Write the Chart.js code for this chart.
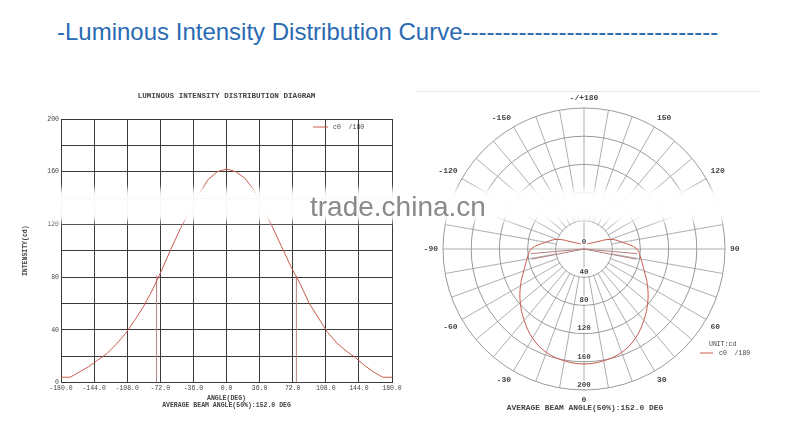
<!DOCTYPE html>
<html><head><meta charset="utf-8">
<script src="https://cdn.jsdelivr.net/npm/chart.js@4/dist/chart.umd.min.js"></script>
<style>
html,body{margin:0;padding:0;background:#fff;width:800px;height:432px;overflow:hidden;position:relative;font-family:'Liberation Sans',Arial,sans-serif}
#title{position:absolute;left:57px;top:20px;font-size:24px;line-height:24px;color:#2a6ab3;white-space:nowrap}
#lw{position:absolute;left:0;top:80px;width:453px;height:340px}
#rw{position:absolute;left:410px;top:84px;width:348px;height:332px}
#topline{position:absolute;left:415px;top:91px;width:345px;height:1px;background:#e8e8e8}
#band{position:absolute;left:43px;top:189px;width:692px;height:32px;background:rgba(255,255,255,0.96);filter:blur(3px)}
#wm{position:absolute;left:310px;top:193px;font-size:28px;line-height:28px;color:#8a8a8a;white-space:nowrap}
</style></head><body>
<div id="title">-Luminous Intensity Distribution Curve--------------------------------</div>
<div id="topline"></div>
<div id="lw"><canvas id="lc"></canvas></div>
<div id="rw"><canvas id="rc"></canvas></div>
<div id="band"></div>
<div id="wm">trade.china.cn</div>
<script>
// ---- data: cartesian curve (angle in degrees, intensity in cd) ----
const angles = [-180,-170,-160,-150,-140,-130,-120,-110,-100,-90,-80,-70,-60,-50,-40,-30,-20,-10,0,10,20,30,40,50,60,70,80,90,100,110,120,130,140,150,160,170,180];
const intensity = [4,4,8,12,17,22,29,37,47,58,71,86,102,117,130,143,154,160,162,160,155,146,132,118,103,88,75,60,49,38,30,24,19,13,8,4,4];
// ---- data: polar curve as drawn in the polar diagram (clockwise from 0 at bottom) ----
const polarAngles = [0,-10,-20,-30,-40,-50,-60,-70,-80,-90,-100,-110,-120,-130,-140,-150,-160,-170,180,170,160,150,140,130,120,110,100,90,80,70,60,50,40,30,20,10];
const polarIntensity = [163,161,156,146,132,118,104,91,82,75,55,40,20,13,10,8,7,6,6,6,7,8,10,13,20,40,55,75,82,91,104,118,132,146,156,161];
const beamAngles = [-76, 76];
const polarBeamAngles = [-85, -79, 79, 85];
const beamLevel = 81;
const polarBeamLevel = 76;
const seriesLabel = 'c0  /180';
const xTickStep = 36, yTickStep = 20, yLabelStep = 40;
const polarRingStep = 40, polarLabelStep = 30;
const chartTitle = 'LUMINOUS INTENSITY DISTRIBUTION DIAGRAM';
const xTitle = ['ANGLE(DEG)', 'AVERAGE BEAM ANGLE(50%):152.0 DEG'];
const yTitle = 'INTENSITY(cd)';
const polarUnit = 'UNIT:cd';
const polarFooter = 'AVERAGE BEAM ANGLE(50%):152.0 DEG';

// ---- styles ----
const MONO = "'Liberation Mono','DejaVu Sans Mono',monospace";
const curveColor = '#c95a4e';
const beamColor = '#b58080';
const txt = '#444';

const leftDecor = {
  id: 'leftDecor',
  afterDraw(chart) {
    const {ctx, chartArea: ca} = chart;
    ctx.save();
    ctx.fillStyle = txt;
    ctx.font = `bold 7.6px ${MONO}`;
    ctx.textAlign = 'center'; ctx.textBaseline = 'middle';
    ctx.fillText(chartTitle, (ca.left + ca.right) / 2, ca.top - 23);
    const y = ca.top + 8;
    ctx.strokeStyle = curveColor; ctx.lineWidth = 1;
    ctx.beginPath(); ctx.moveTo(ca.right - 79, y); ctx.lineTo(ca.right - 64, y); ctx.stroke();
    ctx.font = `6.5px ${MONO}`; ctx.textAlign = 'left';
    ctx.fillText(chart.data.datasets[0].label, ca.right - 59, y);
    ctx.restore();
  }
};

new Chart(document.getElementById('lc'), {
  type: 'line',
  data: {
    datasets: [
      { label: seriesLabel, data: angles.map((a, i) => ({x: a, y: intensity[i]})), borderColor: curveColor, borderWidth: 1, pointRadius: 0, tension: 0, fill: false },
      ...beamAngles.map(a => ({ label: 'beam', data: [{x: a, y: 0}, {x: a, y: beamLevel}], borderColor: beamColor, borderWidth: 1, pointRadius: 0, fill: false }))
    ]
  },
  options: {
    responsive: true, maintainAspectRatio: false, animation: false,
    layout: { padding: { left: 0, right: 61, top: 39, bottom: 10.4 } },
    plugins: { legend: { display: false }, tooltip: { enabled: false }, title: { display: false } },
    scales: {
      x: {
        type: 'linear', min: -180, max: 180,
        ticks: { stepSize: xTickStep, autoSkip: false, maxRotation: 0, padding: 2.5, color: txt, font: { family: MONO, size: 6.5, lineHeight: 1 }, callback: v => Number(v).toFixed(1) },
        grid: { color: '#3a3a3a', lineWidth: 1, drawTicks: false },
        border: { color: '#3a3a3a' },
        title: { display: true, text: xTitle, color: txt, font: { family: MONO, size: 6.5, weight: 'bold' }, padding: { top: 0, bottom: 0 } }
      },
      y: {
        min: 0, max: 200,
        afterFit: s => { s.width = 61; },
        ticks: { stepSize: yTickStep, padding: 2, color: txt, font: { family: MONO, size: 6.5 }, callback: v => (v % yLabelStep === 0 ? v : '') },
        grid: { color: '#3a3a3a', lineWidth: 1, drawTicks: false },
        border: { color: '#3a3a3a' },
        title: { display: true, text: yTitle, color: txt, font: { family: MONO, size: 6.5, weight: 'bold' }, padding: { top: 21, bottom: 0 } }
      }
    }
  },
  plugins: [leftDecor]
});

const polarDecor = {
  id: 'polarDecor',
  beforeDatasetsDraw(chart) {
    const s = chart.scales.r, ctx = chart.ctx;
    const r1 = s.getDistanceFromCenterForValue(polarRingStep);
    ctx.save();
    ctx.beginPath(); ctx.arc(s.xCenter, s.yCenter, r1 - 0.7, 0, Math.PI * 2);
    ctx.fillStyle = '#fff'; ctx.fill();
    ctx.strokeStyle = '#999'; ctx.lineWidth = 0.8;
    [0, 9, 18, 27].forEach(i => {
      const p = s.getPointPositionForValue(i, polarRingStep);
      ctx.beginPath(); ctx.moveTo(s.xCenter, s.yCenter); ctx.lineTo(p.x, p.y); ctx.stroke();
    });
    ctx.restore();
  },
  afterDatasetsDraw(chart) {
    const s = chart.scales.r, ctx = chart.ctx;
    const step = polarAngles[0] - polarAngles[1];
    const n = polarAngles.length;
    ctx.save();
    ctx.strokeStyle = beamColor; ctx.lineWidth = 1;
    polarBeamAngles.forEach(a => {
      const idx = a <= 0 ? -a / step : n - a / step;
      const p = s.getPointPositionForValue(idx, polarBeamLevel);
      ctx.beginPath(); ctx.moveTo(s.xCenter, s.yCenter); ctx.lineTo(p.x, p.y); ctx.stroke();
    });
    ctx.font = `bold 7.5px ${MONO}`; ctx.textAlign = 'center'; ctx.textBaseline = 'middle';
    s.ticks.forEach(t => {
      const p = s.getPointPositionForValue(0, t.value);
      const label = String(t.value);
      const w = ctx.measureText(label).width;
      const dy = t.value === 0 ? -7 : -5;
      ctx.fillStyle = '#fff';
      ctx.fillRect(p.x - w / 2 - 1, p.y + dy - 4, w + 2, 8);
      ctx.fillStyle = txt;
      ctx.fillText(label, p.x, p.y + dy);
    });
    const xc = s.xCenter, yc = s.yCenter;
    ctx.font = `6.5px ${MONO}`; ctx.textAlign = 'left';
    ctx.fillText(polarUnit, xc + 125, yc + 95);
    ctx.strokeStyle = curveColor;
    ctx.beginPath(); ctx.moveTo(xc + 116, yc + 104); ctx.lineTo(xc + 129, yc + 104); ctx.stroke();
    ctx.fillText(chart.data.datasets[0].label, xc + 135, yc + 104);
    ctx.font = `bold 7.9px ${MONO}`; ctx.textAlign = 'center';
    ctx.fillText(polarFooter, xc + 1, yc + 159);
    ctx.restore();
  }
};

new Chart(document.getElementById('rc'), {
  type: 'radar',
  data: {
    labels: polarAngles,
    datasets: [{ label: seriesLabel, data: polarIntensity, borderColor: curveColor, borderWidth: 1, pointRadius: 0, fill: false, tension: 0.4 }]
  },
  options: {
    responsive: true, maintainAspectRatio: false, animation: false,
    layout: { padding: { top: 9.4, bottom: 9.6, left: 0, right: 0 } },
    plugins: { legend: { display: false }, tooltip: { enabled: false } },
    scales: {
      r: {
        min: 0, max: 200, startAngle: 180,
        ticks: { stepSize: polarRingStep, display: false },
        grid: { circular: true, color: '#808080', lineWidth: 0.8 },
        angleLines: { color: '#999', lineWidth: 0.8 },
        pointLabels: {
          color: txt, padding: 5, font: { family: MONO, size: 8, weight: 'bold' },
          callback: a => (a === 180 ? '-/+180' : (a % polarLabelStep === 0 ? String(a) : ''))
        }
      }
    }
  },
  plugins: [polarDecor]
});
</script>
</body></html>
